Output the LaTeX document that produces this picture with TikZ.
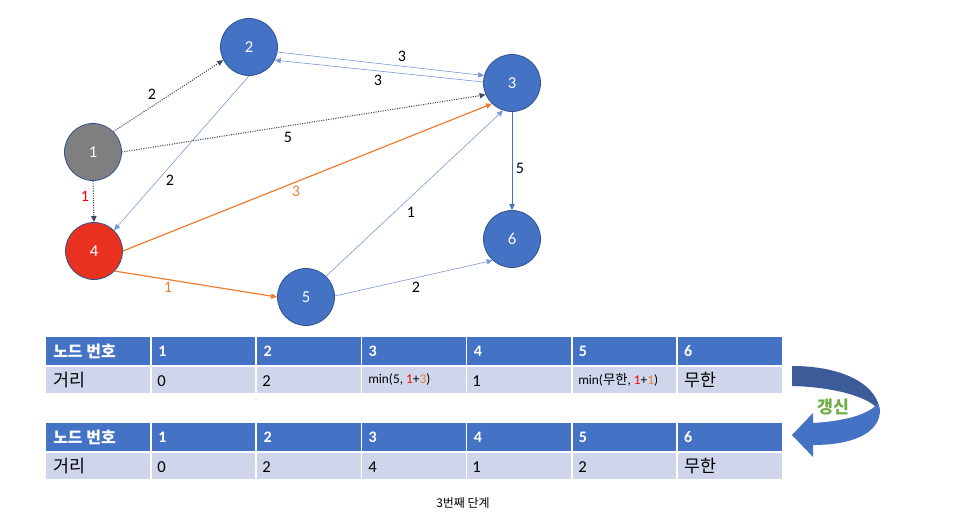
\documentclass[tikz,border=0pt]{standalone}
\usepackage{fontspec}
\setmainfont{Carlito}
\newfontfamily\kr{Noto Sans CJK KR}
\usepackage{tikz}
\usetikzlibrary{arrows.meta,positioning}

\definecolor{nodeblue}{HTML}{4472C4}
\definecolor{rimblue}{HTML}{2F528F}
\definecolor{nodegray}{HTML}{7F7F7F}
\definecolor{nodered}{HTML}{E8321F}
\definecolor{rowgray}{HTML}{CFD5EA}
\definecolor{edgeblue}{HTML}{7A98D6}
\definecolor{edgeorange}{HTML}{ED7D31}
\definecolor{edgedark}{HTML}{404A5A}
\definecolor{labelgreen}{HTML}{70AD47}
\definecolor{darkribbon}{HTML}{3B5C99}

\begin{document}
\begin{tikzpicture}[
        %We set the unit to pixels and define some styles
        x=0.75pt, y=-0.75pt,
        vertex/.style={circle, draw=rimblue, line width=0.6pt, fill=nodeblue,
            minimum size=42.75pt, inner sep=0pt, text=white,
            font=\fontsize{12.5}{14}\selectfont},
        visited/.style={vertex, fill=nodegray},
        current/.style={vertex, fill=nodered},
        thin edge/.style={edgeblue, line width=0.45pt, -{Triangle[length=4.5pt,width=4pt]}},
        dotted edge/.style={edgedark, densely dotted, line width=0.8pt, -{Triangle[length=4.5pt,width=4pt]}},
        best edge/.style={edgeorange, line width=0.9pt, -{Triangle[length=4.5pt,width=4pt]}},
        weight/.style={font=\fontsize{12}{14}\selectfont},
        head/.style={anchor=west, inner sep=0pt, text=white, font=\fontsize{12}{14}\selectfont\bfseries},
        cell/.style={anchor=west, inner sep=0pt, font=\fontsize{12.5}{15}\selectfont},
        small cell/.style={anchor=west, inner sep=0pt, font=\fontsize{10}{12}\selectfont},
        kr cell/.style={anchor=west, inner sep=0pt, font=\fontsize{13}{15}\selectfont\kr}
    ]
    % Width of a table column
    \newcommand\colw{105.14}
    \useasboundingbox (0,0) rectangle (971,523);

    % Graph nodes
    \node[visited] (n1) at (93,152) {1};
    \node[vertex] (n2) at (249,47) {2};
    \node[vertex] (n3) at (512,83) {3};
    \node[current] (n4) at (94,251) {4};
    \node[vertex] (n5) at (306,297) {5};
    \node[vertex] (n6) at (512,239) {6};

    % Edges
    \draw[dotted edge] (n1.45) -- (n2.207);
    \draw[dotted edge] (n1.0) -- (n3.204);
    \draw[dotted edge] (n1.south) -- (n4.north);
    \draw[thin edge] (n2.-10) -- (n3.165);
    \draw[thin edge] (n3.178) -- (n2.-27);
    \draw[thin edge] (n2.south) -- (n4.46);
    \draw[thin edge, nodeblue, line width=0.6pt] (n3.south) -- (n6.north);
    \draw[thin edge] (n5.46) -- (n3.252);
    \draw[thin edge] (n5.2) -- (n6.228);
    \draw[best edge] (n4.0) -- (n3.226);
    \draw[best edge] (n4.-44) -- (n5.180);

    % Weights
    \node[weight] (w12) at (152,94) {2};
    \node[weight] (w23) at (402,56) {3};
    \node[weight] (w32) at (378,80) {3};
    \node[weight] (w13) at (288,137) {5};
    \node[weight] (w24) at (170,180) {2};
    \node[weight, text=red] (w14) at (85,196) {1};
    \node[weight, text=edgeorange] (w43) at (296,191) {3};
    \node[weight] (w36) at (520,168) {5};
    \node[weight] (w53) at (411,212) {1};
    \node[weight, text=edgeorange] (w45) at (168,287) {1};
    \node[weight] (w56) at (416,287) {2};

    % Tables
    \foreach \ry/\tab in {337/old,423/new} {
        \fill[nodeblue] (46,\ry) rectangle (782,\ry+28);
        \fill[rowgray] (46,\ry+30) rectangle (782,\ry+56);
        \foreach \i in {1,...,6}
            \draw[white, line width=1.2pt] (46+\i*\colw,\ry) -- (46+\i*\colw,\ry+56);
        \node[head, font=\fontsize{12}{14}\selectfont\kr\bfseries] (\tab-h0) at (53,\ry+14) {노드 번호};
        \foreach \i in {1,...,6}
            \node[head] (\tab-h\i) at (46+\i*\colw+7,\ry+14) {\i};
        \node[kr cell] (\tab-d0) at (53,\ry+43) {거리};
    }
    % Distances before the update
    \node[cell] (old-d1) at (157,381) {0};
    \node[cell] (old-d2) at (262,381) {2};
    \node[small cell] (old-d3) at (368,380) {min(5, \textcolor{red}{1}+\textcolor{edgeorange}{3})};
    \node[cell] (old-d4) at (472,381) {1};
    \node[small cell] (old-d5) at (578,380) {min({\kr 무한}, \textcolor{red}{1}+\textcolor{edgeorange}{1})};
    \node[kr cell] (old-d6) at (684,380) {무한};
    % Distances after the update
    \node[cell] (new-d1) at (157,467) {0};
    \node[cell] (new-d2) at (262,467) {2};
    \node[cell] (new-d3) at (368,467) {4};
    \node[cell] (new-d4) at (472,467) {1};
    \node[cell] (new-d5) at (578,467) {2};
    \node[kr cell] (new-d6) at (684,466) {무한};

    % Update arrow
    \fill[darkribbon] (792,366) .. controls (845,366) and (880,386) .. (880,414)
        -- (877,408) .. controls (866,396) and (832,387) .. (792,386) -- cycle;
    \fill[nodeblue] (880,410) .. controls (880,432) and (855,445) .. (813,445)
        -- (813,457) -- (792,435) -- (813,413) -- (813,423)
        .. controls (846,421) and (870,414) .. (878,403) -- cycle;
    \node[text=labelgreen, font=\fontsize{13}{15}\selectfont\kr\bfseries] (upd) at (833,407) {갱신};

    % Caption
    \node[font=\fontsize{9}{11}\selectfont\kr] (step) at (463,503) {3번째 단계};
\end{tikzpicture}
\end{document}
